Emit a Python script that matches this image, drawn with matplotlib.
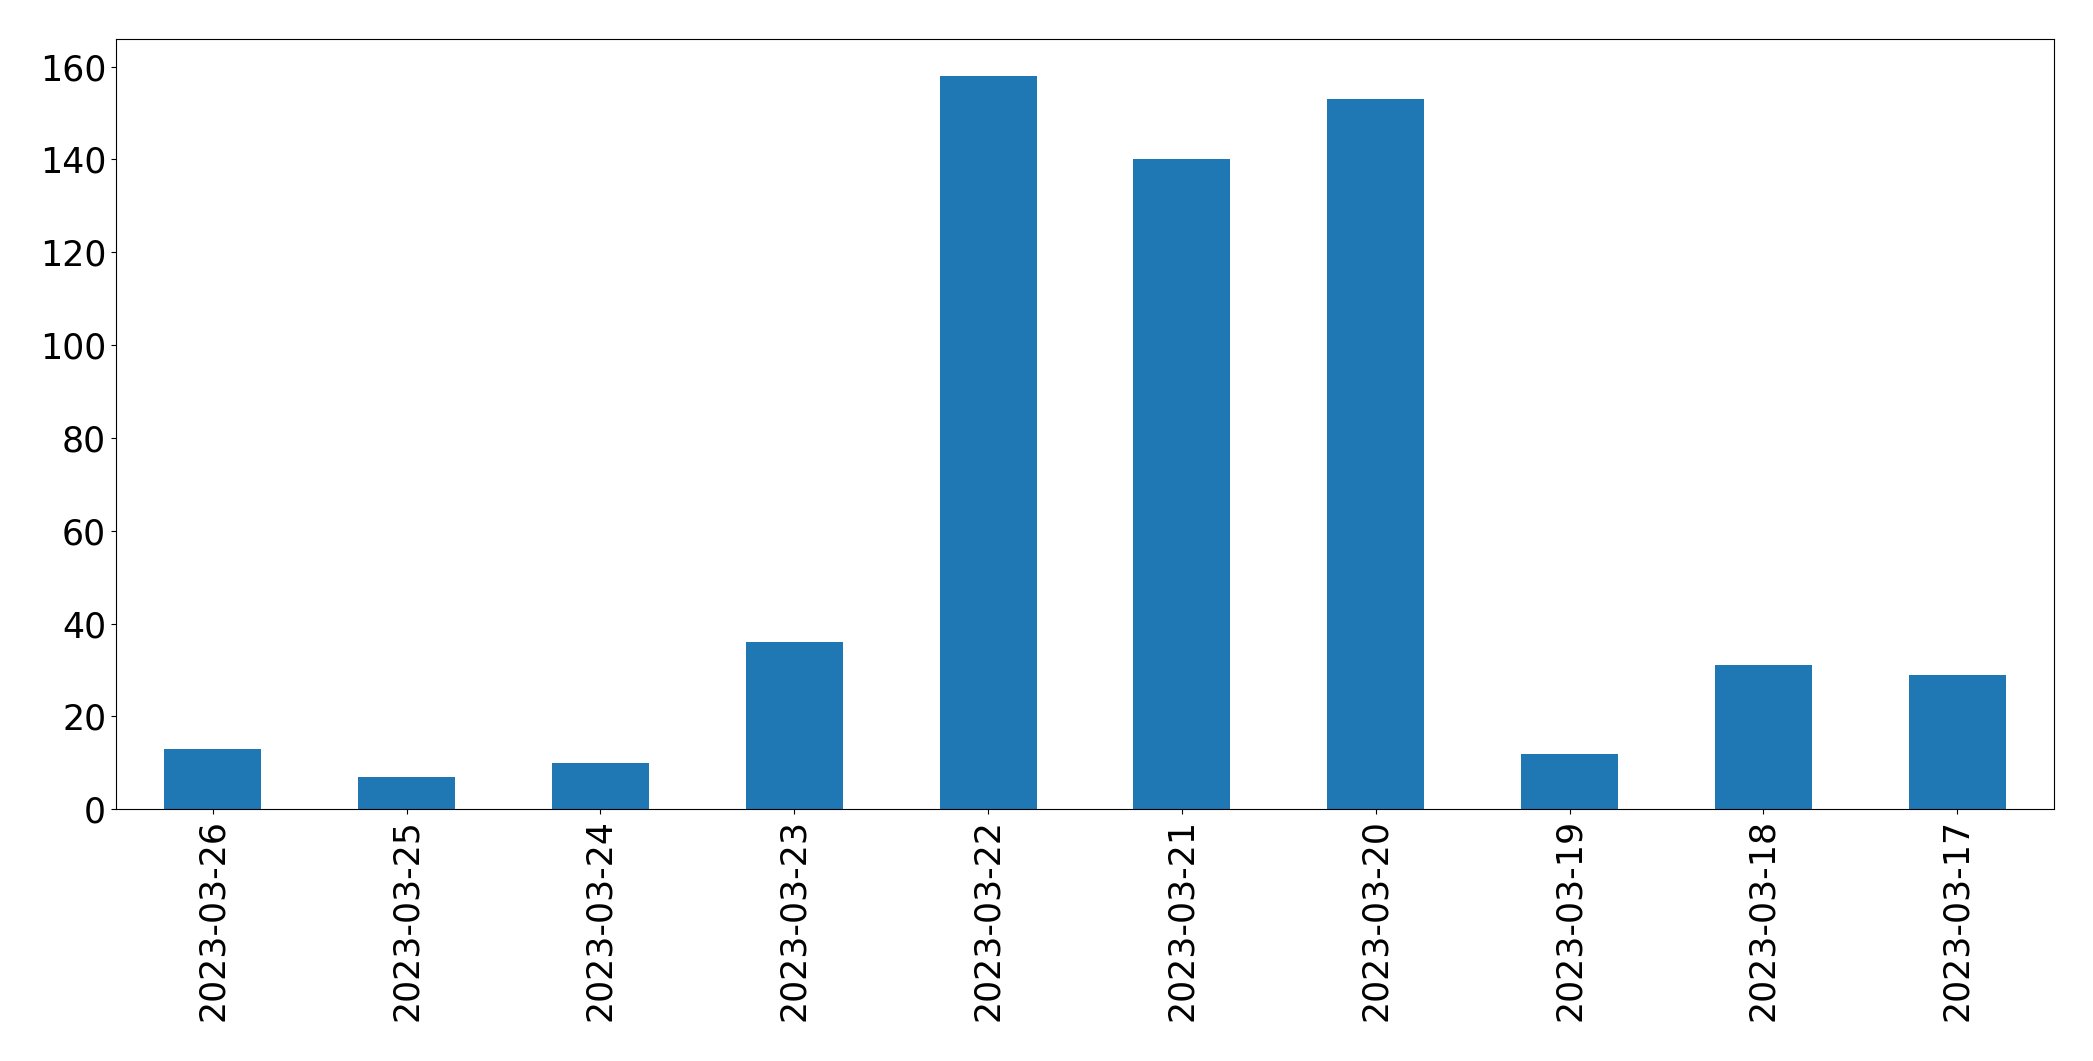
import matplotlib
matplotlib.use("Agg")
import matplotlib.pyplot as plt

dates = ["2023-03-26", "2023-03-25", "2023-03-24", "2023-03-23", "2023-03-22",
         "2023-03-21", "2023-03-20", "2023-03-19", "2023-03-18", "2023-03-17"]
counts = [13, 7, 10, 36, 158, 140, 153, 12, 31, 29]

fig = plt.figure(figsize=(20.93, 10.61), dpi=100)
ax = fig.add_axes([0.0554, 0.2372, 0.9260, 0.7258])
x = list(range(len(dates)))
ax.bar(x, counts, width=0.5, color="#1f77b4")
ax.set_xlim(-0.5, len(dates) - 0.5)
ax.set_ylim(0, max(counts) * 1.05)
ax.set_xticks(x)
ax.set_xticklabels(dates, rotation=90)
ax.tick_params(axis="both", labelsize=25)
fig.savefig("out.png", dpi=100)
